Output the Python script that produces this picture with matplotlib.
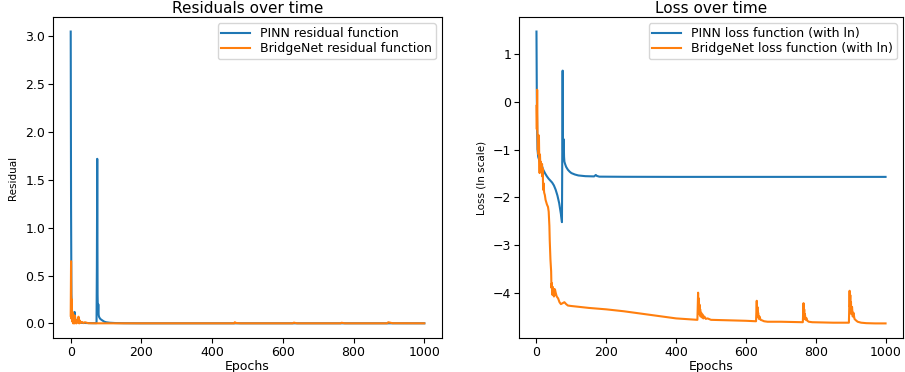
import matplotlib
matplotlib.use("Agg")
import matplotlib.pyplot as plt

# ---------------- data ----------------
# Left panel: residuals
pinn_res_epochs = [0, 1, 2, 4, 6, 8, 10, 11, 13, 16, 20, 30, 45, 60, 73, 74, 75, 76, 77, 78, 79,
                   80, 83, 86, 90, 95, 100, 110, 125, 150, 200, 400, 600, 800, 1000]
pinn_res_values = [3.05, 1.2, 0.3, 0.1, 0.06, 0.05, 0.08, 0.12, 0.03, 0.02, 0.012, 0.006, 0.004,
                   0.003, 0.003, 0.6, 1.72, 0.3, 0.1, 0.2, 0.09, 0.07, 0.05, 0.04, 0.03, 0.018,
                   0.012, 0.007, 0.004, 0.002, 0.001, 0.001, 0.001, 0.001, 0.001]

bridge_res_epochs = [0, 1, 2, 3, 4, 5, 6, 7, 8, 9, 10, 11, 12, 13, 14, 16, 18, 20, 22, 24, 26,
                     28, 32, 36, 40, 50, 70, 100, 200, 300, 400, 462, 464, 468, 480, 628, 631,
                     640, 763, 766, 775, 895, 898, 910, 1000]
bridge_res_values = [0.08, 0.65, 0.05, 0.25, 0.02, 0.12, 0.03, 0.0, 0.09, 0.01, 0.06, 0.0, 0.08,
                     0.02, 0.04, 0.0, 0.03, 0.01, 0.07, 0.0, 0.03, 0.005, 0.015, 0.003, 0.012,
                     0.002, 0.001, 0.001, 0.001, 0.001, 0.001, 0.001, 0.012, 0.004, 0.001,
                     0.001, 0.008, 0.001, 0.001, 0.007, 0.001, 0.001, 0.012, 0.002, 0.001]

# Right panel: loss (ln scale)
pinn_loss_epochs = [0, 1, 2, 3, 5, 8, 10, 12, 15, 20, 25, 30, 35, 40, 45, 50, 55, 60, 65, 70,
                    73, 75, 76, 77, 78, 79, 80, 82, 85, 90, 95, 100, 110, 120, 140, 165, 170,
                    173, 180, 250, 400, 600, 800, 1000]
pinn_loss_values = [1.48, 0.1, -0.6, -1.0, -1.15, -1.22, -1.27, -1.26, -1.33, -1.43, -1.5,
                    -1.56, -1.61, -1.65, -1.69, -1.75, -1.84, -1.96, -2.12, -2.35, -2.52, 0.66,
                    -1.0, -1.2, -0.78, -1.15, -1.25, -1.3, -1.36, -1.42, -1.46, -1.49, -1.52,
                    -1.54, -1.555, -1.56, -1.53, -1.55, -1.565, -1.568, -1.57, -1.57, -1.57,
                    -1.57]

bridge_loss_epochs = [0, 1, 2, 3, 4, 5, 6, 7, 8, 9, 10, 11, 12, 14, 16, 17, 18, 19, 20, 22, 24,
                      26, 28, 30, 33, 35, 37, 38, 40, 42, 43, 44, 45, 46, 47, 48, 49, 50, 51, 52,
                      53, 55, 58, 62, 66, 70, 75, 80, 85, 90, 100, 150, 200, 250, 300, 350, 400,
                      461, 463, 464, 465, 466, 467, 468, 469, 470, 472, 474, 476, 478, 481, 485,
                      490, 500, 550, 600, 629, 631, 632, 633, 634, 635, 637, 639, 642, 646, 652,
                      662, 700, 763, 765, 766, 767, 768, 769, 771, 773, 776, 780, 790, 850, 895,
                      897, 898, 899, 900, 901, 902, 904, 906, 908, 911, 915, 920, 930, 945, 970,
                      1000]
bridge_loss_values = [-0.08, -0.57, 0.26, -0.65, -1.0, -0.75, -1.1, -0.7, -1.2, -1.49, -1.1,
                      -1.3, -1.25, -1.45, -1.3, -1.56, -1.4, -1.84, -1.7, -1.9, -1.95, -2.05,
                      -2.1, -2.15, -2.2, -2.3, -2.6, -2.9, -3.3, -3.55, -3.9, -3.8, -3.95, -4.05,
                      -3.88, -4.0, -3.92, -4.08, -3.95, -4.05, -3.93, -4.0, -4.08, -4.12, -4.2,
                      -4.24, -4.22, -4.2, -4.24, -4.27, -4.28, -4.32, -4.35, -4.39, -4.44,
                      -4.49, -4.54, -4.57, -4.0, -4.4, -4.12, -4.45, -4.25, -4.47, -4.35, -4.5,
                      -4.42, -4.52, -4.46, -4.54, -4.5, -4.55, -4.54, -4.57, -4.58, -4.59, -4.6,
                      -4.17, -4.45, -4.3, -4.5, -4.42, -4.55, -4.5, -4.57, -4.58, -4.6, -4.61,
                      -4.61, -4.62, -4.22, -4.5, -4.35, -4.55, -4.45, -4.57, -4.53, -4.59,
                      -4.61, -4.62, -4.63, -4.63, -3.96, -4.3, -4.05, -4.4, -4.2, -4.45, -4.3,
                      -4.5, -4.42, -4.55, -4.58, -4.61, -4.63, -4.64, -4.645, -4.645]

# ---------------- plotting ----------------
BLUE = "#1f77b4"
ORANGE = "#ff7f0e"

fig = plt.figure(figsize=(9.05, 3.72), dpi=100)
ax1 = fig.add_axes([0.0586, 0.0914, 0.4298, 0.863])
ax2 = fig.add_axes([0.5735, 0.0914, 0.4243, 0.863])

ax1.plot(pinn_res_epochs, pinn_res_values, color=BLUE, lw=1.5, label="PINN residual function")
ax1.plot(bridge_res_epochs, bridge_res_values, color=ORANGE, lw=1.5,
         label="BridgeNet residual function")
ax1.set_title("Residuals over time", fontsize=11, pad=3)
ax1.set_xlabel("Epochs", fontsize=9, labelpad=1)
ax1.set_ylabel("Residual", fontsize=7.5, labelpad=5)
ax1.legend(loc="upper right", fontsize=9, labelspacing=0.2, borderpad=0.3, handlelength=2.3)

ax2.plot(pinn_loss_epochs, pinn_loss_values, color=BLUE, lw=1.5,
         label="PINN loss function (with ln)")
ax2.plot(bridge_loss_epochs, bridge_loss_values, color=ORANGE, lw=1.5,
         label="BridgeNet loss function (with ln)")
ax2.set_title("Loss over time", fontsize=11, pad=3)
ax2.set_xlabel("Epochs", fontsize=9, labelpad=1)
ax2.set_ylabel("Loss (ln scale)", fontsize=7.5, labelpad=5)
ax2.legend(loc="upper right", fontsize=9, labelspacing=0.2, borderpad=0.3, handlelength=2.3)

for ax in (ax1, ax2):
    ax.tick_params(labelsize=9, length=3.5, pad=2)
    ax.set_xticks([0, 200, 400, 600, 800, 1000])

ax1.set_yticks([0.0, 0.5, 1.0, 1.5, 2.0, 2.5, 3.0])
ax2.set_yticks([-4, -3, -2, -1, 0, 1])

fig.savefig("out.png", dpi=100)
